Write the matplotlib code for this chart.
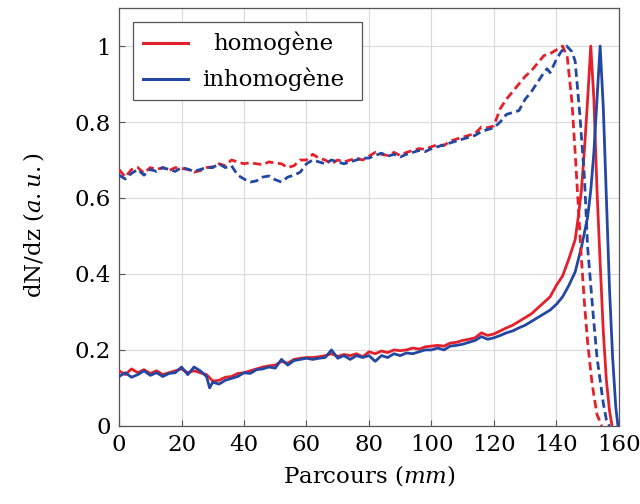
import matplotlib
matplotlib.use("Agg")
import matplotlib.pyplot as plt
from matplotlib.patches import Rectangle

plt.rcParams['font.family'] = ['DejaVu Serif']
plt.rcParams['mathtext.fontset'] = 'dejavuserif'

# ---- data ----
x_hom = [0, 2, 4, 6, 8, 10, 12, 14, 16, 18, 20, 22, 24, 26, 28, 30, 32, 34, 36, 38,
         40, 42, 44, 46, 48, 50, 52, 54, 56, 58, 60, 62, 64, 66, 68, 70, 72, 74, 76, 78,
         80, 82, 84, 86, 88, 90, 92, 94, 96, 98, 100, 102, 104, 106, 108, 110, 112, 114, 116, 118,
         120, 122, 124, 126, 128, 130, 132, 134, 136, 138, 140, 142, 144, 146, 147, 148, 149, 150, 151,
         152, 153, 154, 155, 156, 157, 157.8]
y_hom = [0.145, 0.135, 0.15, 0.14, 0.148, 0.138, 0.145, 0.135, 0.14, 0.145, 0.15, 0.14, 0.145, 0.14, 0.135, 0.118, 0.12, 0.128, 0.13, 0.138,
         0.14, 0.145, 0.15, 0.155, 0.158, 0.16, 0.17, 0.165, 0.175, 0.178, 0.18, 0.18, 0.182, 0.185, 0.19, 0.183, 0.188, 0.185, 0.19, 0.182,
         0.195, 0.19, 0.197, 0.193, 0.2, 0.198, 0.2, 0.205, 0.202, 0.208, 0.21, 0.212, 0.21, 0.218, 0.22, 0.225, 0.228, 0.232, 0.245, 0.238,
         0.242, 0.25, 0.258, 0.265, 0.275, 0.285, 0.295, 0.31, 0.325, 0.34, 0.37, 0.395, 0.44, 0.49, 0.55, 0.62, 0.73, 0.86, 1.0,
         0.86, 0.62, 0.43, 0.25, 0.12, 0.04, 0.0]

x_inh = [0, 2, 4, 6, 8, 10, 12, 14, 16, 18, 20, 22, 24, 26, 28, 29, 30, 32, 34, 36, 38,
         40, 42, 44, 46, 48, 50, 52, 54, 56, 58, 60, 62, 64, 66, 68, 70, 72, 74, 76, 78,
         80, 82, 84, 86, 88, 90, 92, 94, 96, 98, 100, 102, 104, 106, 108, 110, 112, 114, 116, 118,
         120, 122, 124, 126, 128, 130, 132, 134, 136, 138, 140, 142, 144, 146, 148, 149, 150, 151, 152, 153, 154,
         155, 156, 157, 158, 159, 159.7]
y_inh = [0.13, 0.14, 0.128, 0.135, 0.145, 0.133, 0.14, 0.13, 0.138, 0.14, 0.155, 0.135, 0.155, 0.145, 0.13, 0.10, 0.115, 0.11, 0.12, 0.125, 0.13,
         0.14, 0.138, 0.148, 0.15, 0.155, 0.152, 0.175, 0.16, 0.172, 0.175, 0.178, 0.175, 0.178, 0.18, 0.2, 0.178, 0.185, 0.175, 0.185, 0.18,
         0.185, 0.17, 0.185, 0.18, 0.19, 0.185, 0.192, 0.19, 0.195, 0.2, 0.2, 0.205, 0.2, 0.21, 0.212, 0.215, 0.22, 0.225, 0.235, 0.228,
         0.232, 0.238, 0.245, 0.25, 0.258, 0.265, 0.275, 0.285, 0.295, 0.305, 0.32, 0.34, 0.37, 0.405, 0.47, 0.51, 0.55, 0.62, 0.72, 0.86, 1.0,
         0.84, 0.6, 0.36, 0.18, 0.05, 0.0]

xd_hom = [0, 2, 4, 6, 8, 10, 12, 14, 16, 18, 20, 22, 24, 26, 28, 30, 32, 34, 36, 38,
          40, 42, 44, 46, 48, 50, 52, 54, 56, 58, 60, 62, 64, 66, 68, 70, 72, 74, 76, 78,
          80, 82, 84, 86, 88, 90, 92, 94, 96, 98, 100, 102, 104, 106, 108, 110, 112, 114, 116, 118,
          120, 122, 124, 126, 128, 130, 132, 134, 136, 138, 140, 142, 143.5, 145, 146, 147, 148, 149, 150,
          151.3, 152, 153, 154.5]
yd_hom = [0.675, 0.655, 0.675, 0.68, 0.665, 0.68, 0.675, 0.68, 0.672, 0.68, 0.678, 0.675, 0.668, 0.672, 0.68, 0.682, 0.69, 0.685, 0.7, 0.695,
          0.69, 0.693, 0.69, 0.688, 0.695, 0.692, 0.69, 0.68, 0.685, 0.7, 0.7, 0.715, 0.705, 0.7, 0.69, 0.7, 0.695, 0.7, 0.705, 0.7,
          0.71, 0.72, 0.715, 0.712, 0.72, 0.712, 0.72, 0.725, 0.73, 0.728, 0.735, 0.74, 0.738, 0.75, 0.755, 0.76, 0.765, 0.77, 0.787, 0.785,
          0.79, 0.835, 0.86, 0.88, 0.9, 0.92, 0.935, 0.955, 0.975, 0.98, 0.99, 1.0, 0.97, 0.85, 0.72, 0.58, 0.44, 0.32, 0.22,
          0.12, 0.08, 0.03, 0.0]

xd_inh = [0, 2, 4, 6, 8, 10, 12, 14, 16, 18, 20, 22, 24, 26, 28, 30, 32, 34, 36, 38,
          40, 42, 44, 46, 48, 50, 52, 54, 56, 58, 60, 62, 64, 66, 68, 70, 72, 74, 76, 78,
          80, 82, 84, 86, 88, 90, 92, 94, 96, 98, 100, 102, 104, 106, 108, 110, 112, 114, 116, 118,
          120, 122, 124, 126, 128, 130, 132, 134, 136, 137, 138, 140, 141.5, 143.3, 145, 146, 147.5, 149, 150,
          151.7, 153, 154, 155, 156, 157]
yd_inh = [0.66, 0.65, 0.665, 0.675, 0.66, 0.675, 0.67, 0.68, 0.675, 0.67, 0.68, 0.676, 0.67, 0.675, 0.68, 0.68, 0.69, 0.68, 0.685, 0.66,
          0.65, 0.642, 0.645, 0.655, 0.658, 0.648, 0.642, 0.655, 0.66, 0.668, 0.69, 0.7, 0.695, 0.69, 0.7, 0.695, 0.69, 0.695, 0.7, 0.705,
          0.705, 0.712, 0.718, 0.71, 0.715, 0.708, 0.715, 0.72, 0.725, 0.722, 0.73, 0.735, 0.74, 0.745, 0.75, 0.755, 0.76, 0.765, 0.775, 0.78,
          0.785, 0.8, 0.82, 0.825, 0.83, 0.86, 0.88, 0.905, 0.93, 0.94, 0.93, 0.965, 0.985, 1.0, 0.985, 0.96, 0.82, 0.65, 0.47,
          0.3, 0.18, 0.12, 0.06, 0.016, 0.0]

x_ticks = [0, 20, 40, 60, 80, 100, 120, 140, 160]
y_ticks = [0, 0.2, 0.4, 0.6, 0.8, 1]
y_ticklabels = ['0', '0.2', '0.4', '0.6', '0.8', '1']
labels = ['homogène', 'inhomogène']

RED = '#e4212b'
BLUE = '#2347a2'
FS = 16.5

fig = plt.figure(figsize=(6.4, 5.04), dpi=100)
ax = fig.add_axes([0.186, 0.155, 0.781, 0.829])

lw = 2.0
ax.plot(x_hom, y_hom, color=RED, lw=lw, zorder=3)
ax.plot(x_inh, y_inh, color=BLUE, lw=lw, zorder=3)
ax.plot(xd_hom, yd_hom, color=RED, lw=lw, ls=(0, (3.0, 1.6)), zorder=3)
ax.plot(xd_inh, yd_inh, color=BLUE, lw=lw, ls=(0, (3.0, 1.6)), zorder=3)

ax.set_xlim(0, 160)
ax.set_ylim(0, 1.1)
ax.set_xticks(x_ticks)
ax.set_yticks(y_ticks)
ax.set_yticklabels(y_ticklabels)
ax.grid(True, color='#d9d9d9', lw=0.8)
ax.set_axisbelow(True)
ax.tick_params(direction='in', length=4, color='#555555', labelsize=FS, pad=6)
for s in ax.spines.values():
    s.set_color('#555555')
    s.set_linewidth(0.9)

ax.set_xlabel(r'Parcours ($\mathit{mm}$)', fontsize=FS, labelpad=5)
ax.set_ylabel(r'dN/dz ($\mathit{a{.}u{.}}$)', fontsize=FS)
ax.yaxis.set_label_coords(-0.146, 0.48)

# legend (text centred like the reference)
ax.add_patch(Rectangle((0.028, 0.78), 0.458, 0.1865, transform=ax.transAxes,
                       facecolor='white', edgecolor='#555555', lw=0.9, zorder=5))
for yy, col, lab in [(0.916, RED, labels[0]), (0.83, BLUE, labels[1])]:
    ax.plot([0.048, 0.138], [yy, yy], color=col, lw=2.2, transform=ax.transAxes, zorder=6)
    ax.text(0.308, yy, lab, transform=ax.transAxes, ha='center', va='center',
            fontsize=FS, zorder=6)

fig.savefig('out.png', dpi=100)
